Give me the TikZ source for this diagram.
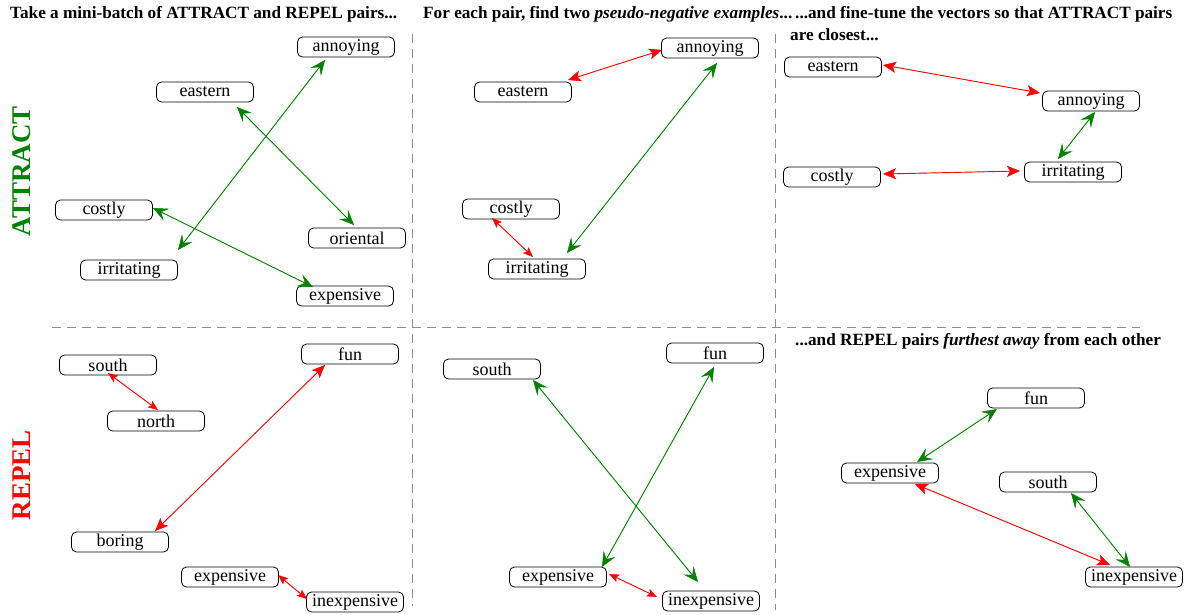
\documentclass[tikz,border=0pt]{standalone}
\usepackage{fontspec}
\setmainfont{Liberation Serif}
\usetikzlibrary{arrows.meta}
\definecolor{attrg}{RGB}{0,128,0}
\definecolor{repr}{RGB}{255,0,0}
\definecolor{divgray}{RGB}{140,140,140}
\tikzset{
  word/.style={draw=black, line width=0.8pt, rounded corners=5pt, minimum width=97pt, minimum height=20pt, inner sep=0pt, font=\rmfamily\fontsize{18}{18}\selectfont},
  hdr/.style={anchor=west, inner sep=0pt, font=\rmfamily\fontsize{17.2}{18}\selectfont\bfseries},
  gtip/.tip={Stealth[length=15pt,width=13pt,inset=6pt,line width=0.5pt]},
  rtip/.tip={Stealth[length=13pt,width=11pt,inset=3pt,line width=0.5pt]},
  rstip/.tip={Stealth[length=10pt,width=8pt,inset=2pt,line width=0.5pt]},
  gar/.style={draw=attrg, fill=attrg, line width=0.9pt, gtip-gtip},
  rar/.style={draw=repr, fill=repr, line width=0.9pt, rtip-rtip},
  rars/.style={draw=repr, fill=repr, line width=0.9pt, rstip-rstip},
  divider/.style={draw=divgray, line width=0.9pt, dash pattern=on 9pt off 6pt},
  side/.style={rotate=90, inner sep=0pt, font=\rmfamily\fontsize{27}{27}\selectfont\bfseries}
}
\begin{document}
\begin{tikzpicture}[x=1pt,y=-1pt]
\useasboundingbox (0,0) rectangle (1191,614);
% dividers
\coordinate (v1t) at (412,34); \coordinate (v1b) at (412,606);
\coordinate (v2t) at (775,34); \coordinate (v2b) at (775,610);
\coordinate (hl) at (52,327); \coordinate (hr) at (1140,327);
\draw[divider] (v1t) -- (v1b);
\draw[divider] (v2t) -- (v2b);
\draw[divider] (hl) -- (hr);
% headers
\node[hdr] (h1) at (10,14) {Take a mini-batch of ATTRACT and REPEL pairs...};
\node[hdr] (h2) at (423,14) {For each pair, find two \textit{pseudo-negative examples}...};
\node[hdr] (h3a) at (795,14) {...and fine-tune the vectors so that ATTRACT pairs};
\node[hdr] (h3b) at (790,35) {are closest...};
\node[hdr] (h4) at (795,341) {...and REPEL pairs \textit{furthest away} from each other};
% side labels
\node[side, text=attrg] (attract) at (22,171) {ATTRACT};
\node[side, text=repr] (repel) at (22,475) {REPEL};
% panel 1
\node[word] (ann1) at (346,47) {annoying};
\node[word] (eas1) at (205,92) {eastern};
\node[word] (cos1) at (104,210) {costly};
\node[word] (ori1) at (357,238) {oriental};
\node[word] (irr1) at (129,270) {irritating};
\node[word] (exp1) at (345,296) {expensive};
\draw[gar] ([shift={(-21,13)}]ann1.center) -- ([shift={(49,-20)}]irr1.center);
\draw[gar] ([shift={(32,15)}]eas1.center) -- ([shift={(-3,-13)}]ori1.center);
\draw[gar] ([shift={(49,-2)}]cos1.center) -- ([shift={(-32,-9)}]exp1.center);
% panel 2
\node[word] (ann2) at (710,48) {annoying};
\node[word] (eas2) at (523,92) {eastern};
\node[word] (cos2) at (511,209) {costly};
\node[word] (irr2) at (537,269) {irritating};
\draw[rar] ([shift={(45,-12)}]eas2.center) -- ([shift={(-48,2)}]ann2.center);
\draw[gar] ([shift={(7,15)}]ann2.center) -- ([shift={(30,-16)}]irr2.center);
\draw[rars] ([shift={(-19,9)}]cos2.center) -- ([shift={(-4,-12)}]irr2.center);
% panel 3
\node[word] (eas3) at (833,67) {eastern};
\node[word] (ann3) at (1091,101) {annoying};
\node[word] (cos3) at (832,177) {costly};
\node[word] (irr3) at (1073,172) {irritating};
\draw[rar] ([shift={(50,-2)}]eas3.center) -- ([shift={(-51,-8)}]ann3.center);
\draw[gar] ([shift={(4,11)}]ann3.center) -- ([shift={(-15,-13)}]irr3.center);
\draw[rar] ([shift={(51,-3)}]cos3.center) -- ([shift={(-53,-1)}]irr3.center);
% panel 4
\node[word] (sou4) at (108,365) {south};
\node[word] (nor4) at (156,421) {north};
\node[word] (fun4) at (350,354) {fun};
\node[word] (bor4) at (120,542) {boring};
\node[word] (exp4) at (230,577) {expensive};
\node[word] (inx4) at (355,602) {inexpensive};
\draw[rars] ([shift={(0,8)}]sou4.center) -- ([shift={(2,-11)}]nor4.center);
\draw[rar] ([shift={(-25,11)}]fun4.center) -- ([shift={(35,-11)}]bor4.center);
\draw[rars] ([shift={(48,-2)}]exp4.center) -- ([shift={(-48,-3)}]inx4.center);
% panel 5
\node[word] (sou5) at (492,369) {south};
\node[word] (fun5) at (715,353) {fun};
\node[word] (exp5) at (558,577) {expensive};
\node[word] (inx5) at (711,601) {inexpensive};
\draw[gar] ([shift={(41,11)}]sou5.center) -- ([shift={(-13,-19)}]inx5.center);
\draw[gar] ([shift={(-1,14)}]fun5.center) -- ([shift={(44,-10)}]exp5.center);
\draw[rars] ([shift={(51,-3)}]exp5.center) -- ([shift={(-54,-4)}]inx5.center);
% panel 6
\node[word] (fun6) at (1036,398) {fun};
\node[word] (exp6) at (890,473) {expensive};
\node[word] (sou6) at (1048,482) {south};
\node[word] (inx6) at (1134,577) {inexpensive};
\draw[gar] ([shift={(-39,11)}]fun6.center) -- ([shift={(27,-11)}]exp6.center);
\draw[gar] ([shift={(23,11)}]sou6.center) -- ([shift={(-4,-10)}]inx6.center);
\draw[rar] ([shift={(25,11)}]exp6.center) -- ([shift={(-24,-12)}]inx6.center);
\end{tikzpicture}
\end{document}
